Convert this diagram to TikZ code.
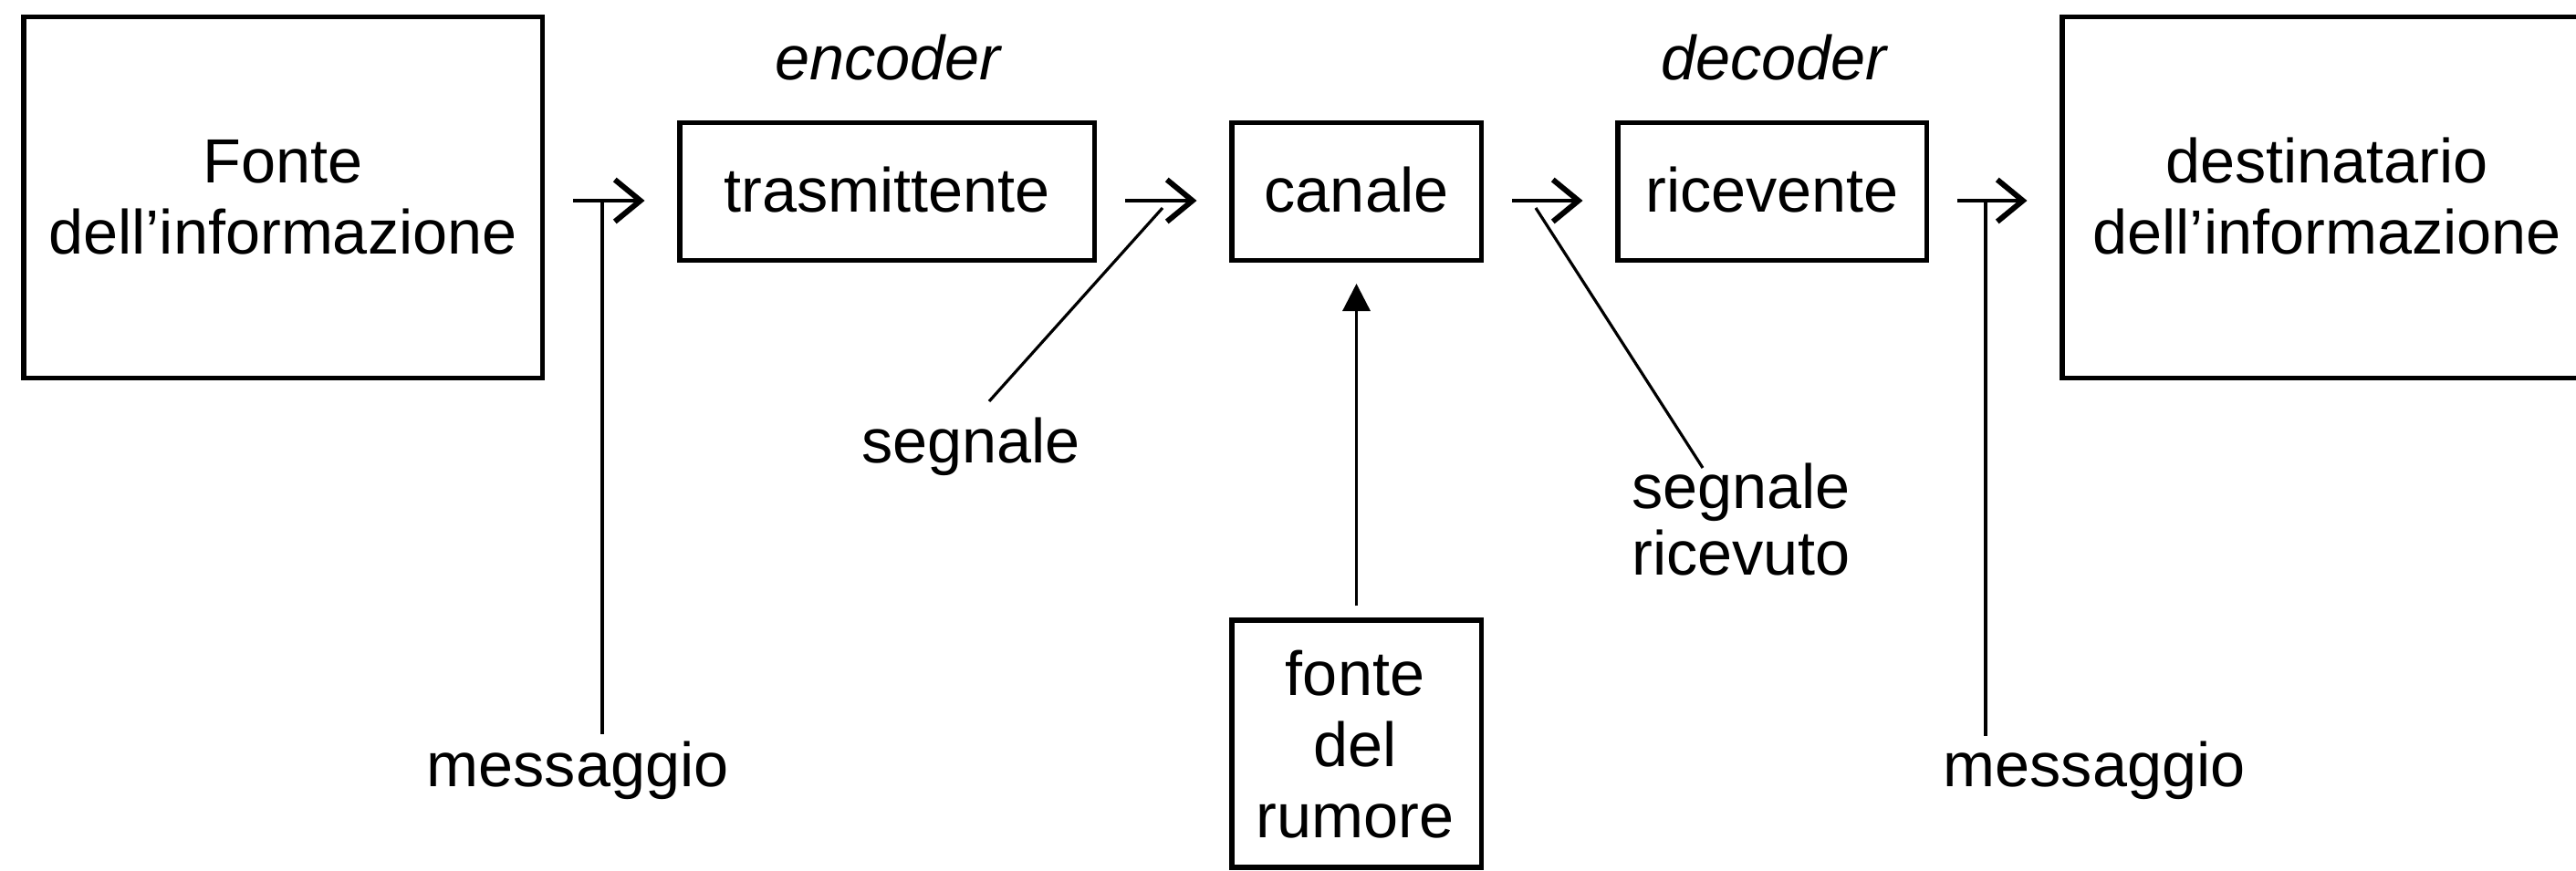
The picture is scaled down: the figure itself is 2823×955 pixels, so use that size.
\documentclass[tikz,border=0pt]{standalone}
\usepackage{fontspec}
\setmainfont{Liberation Sans}
\usetikzlibrary{arrows.meta}

\tikzset{
  box/.style={draw, rectangle, line width=5.5pt, inner sep=0pt},
  lbl/.style={font=\fontsize{68.4}{78}\selectfont, inner sep=0pt, anchor=base},
  role/.style={lbl, font=\fontsize{68.4}{78}\selectfont\itshape},
  inbox/.style={box, font=\fontsize{68.4}{78}\selectfont, text height=44pt, text depth=0pt},
  flow/.style={line width=3.4pt,
    -{Straight Barb[length=28pt, width=46pt, line width=6pt]},
    shorten <=31pt, shorten >=35.5pt},
  feed/.style={line width=3.3pt, -{Triangle[length=30pt, width=30pt]},
    shorten <=12.75pt, shorten >=23pt},
  lead/.style={line width=3.2pt},
}

\begin{document}
\begin{tikzpicture}[x=1pt, y=-1pt]
  \useasboundingbox (0,0) rectangle (2823,955);
  \clip (0,0) rectangle (2823,955);
  \fill[white] (0,0) rectangle (2823,955);

  % main chain of blocks
  \node[box, minimum width=568.5pt, minimum height=395.5pt] (src) at (310,216.5) {};
  \node[lbl] (srcA) at (310,200) {Fonte};
  \node[lbl] (srcB) at (310,278) {dell’informazione};

  \node[inbox, minimum width=454.5pt, minimum height=150.5pt] (tx) at (972,210) {trasmittente};
  \node[inbox, minimum width=273.5pt, minimum height=150.5pt] (ch) at (1486.5,210) {canale};
  \node[inbox, minimum width=338.5pt, minimum height=150.5pt] (rx) at (1942,210) {ricevente};

  \node[box, minimum width=568.5pt, minimum height=395.5pt] (dst) at (2544,216.5) {};
  \node[lbl] (dstA) at (2550,200) {destinatario};
  \node[lbl] (dstB) at (2550,278) {dell’informazione};

  % noise source below the channel
  \node[box, minimum width=273.5pt, minimum height=271.25pt] (noise) at (1486.5,815.4) {};
  \node[lbl] (noiseA) at (1485,762) {fonte};
  \node[lbl] (noiseB) at (1485,840) {del};
  \node[lbl] (noiseC) at (1485,918) {rumore};

  % block roles
  \node[role] (enc) at (973,88) {encoder};
  \node[role] (dec) at (1944,88) {decoder};

  % annotations
  \node[lbl] (msg1) at (633,862) {messaggio};
  \node[lbl] (msg2) at (2295,862) {messaggio};
  \node[lbl] (sig) at (1064,507) {segnale};
  \node[lbl] (rsigA) at (1908,557) {segnale};
  \node[lbl] (rsigB) at (1908,630) {ricevuto};

  % flow arrows along the chain
  \coordinate (row) at (0,220);
  \draw[flow] (src.east |- row) -- (tx.west |- row);
  \draw[flow] (tx.east |- row) -- (ch.west |- row);
  \draw[flow] (ch.east |- row) -- (rx.west |- row);
  \draw[flow] (rx.east |- row) -- (dst.west |- row);

  % noise entering the channel
  \draw[feed] (noise.north) -- (ch.south);

  % leader lines from the annotations
  \coordinate (m1a) at (660,222);
  \coordinate (m1b) at (660,805);
  \coordinate (m2a) at (2176,222);
  \coordinate (m2b) at (2176,807);
  \coordinate (s1a) at (1274,228);
  \coordinate (s1b) at (1084,440);
  \coordinate (s2a) at (1683,228);
  \coordinate (s2b) at (1866,513);
  \draw[lead] (m1a) -- (m1b);
  \draw[lead] (m2a) -- (m2b);
  \draw[lead] (s1a) -- (s1b);
  \draw[lead] (s2a) -- (s2b);
\end{tikzpicture}
\end{document}
